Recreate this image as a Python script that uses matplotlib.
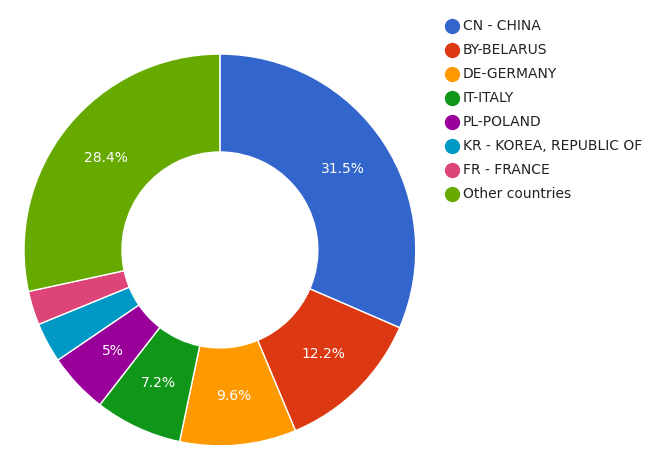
import matplotlib
matplotlib.use("Agg")
import matplotlib.pyplot as plt
from matplotlib.lines import Line2D

labels = ["CN - CHINA", "BY-BELARUS", "DE-GERMANY", "IT-ITALY", "PL-POLAND",
          "KR - KOREA, REPUBLIC OF", "FR - FRANCE", "Other countries"]
values = [31.5, 12.2, 9.6, 7.2, 5.0, 3.3, 2.8, 28.4]
colors = ["#3366cc", "#dc3912", "#ff9900", "#109618", "#990099",
          "#0099c6", "#dd4477", "#66aa00"]

fig = plt.figure(figsize=(6.7, 4.62), dpi=100)
ax = fig.add_axes([0.0357, 0.035, 0.585, 0.848])
wedges, _ = ax.pie(values, colors=colors, startangle=90, counterclock=False,
                   radius=1.0, wedgeprops=dict(width=0.5, edgecolor="white", linewidth=1))
import numpy as np
total = sum(values)
for w, v in zip(wedges, values):
    if v / total * 100 < 4.5:
        continue
    ang = np.deg2rad((w.theta1 + w.theta2) / 2)
    txt = f"{v:g}%"
    ax.text(0.75 * np.cos(ang), 0.75 * np.sin(ang), txt, ha="center", va="center",
            color="white", fontsize=10)
ax.set_xlim(-1, 1); ax.set_ylim(-1, 1); ax.set_aspect("equal"); ax.axis("off")

handles = [Line2D([0], [0], marker="o", linestyle="", markersize=10,
                  markerfacecolor=c, markeredgecolor=c) for c in colors]
fig.legend(handles, labels, loc="upper left", bbox_to_anchor=(0.645, 0.985),
           frameon=False, fontsize=10, labelspacing=0.72, handletextpad=0.3,
           handlelength=1.0, labelcolor="#222222")
fig.savefig("out.png", dpi=100, facecolor="white")
